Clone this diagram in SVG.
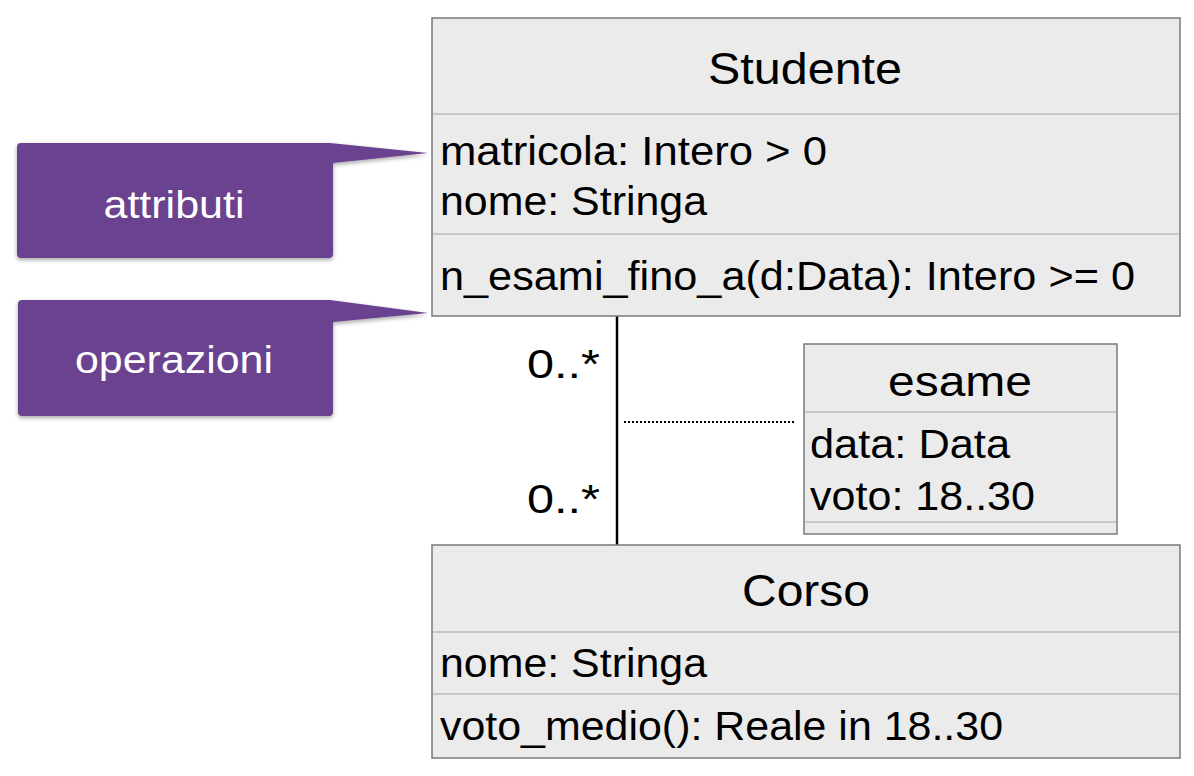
<svg xmlns="http://www.w3.org/2000/svg" width="1194" height="776" viewBox="0 0 1194 776">
<style>
.box{fill:#ebebeb;stroke:#7a7a7a;stroke-width:1.5}
.div{stroke:#bdbdbd;stroke-width:1.5}
.t{font-family:"Liberation Sans",Arial,sans-serif;fill:#000}
.title{font-size:44px;text-anchor:middle}
.attr{font-size:40px}
.call{fill:#6b4390}
.ct{font-family:"Liberation Sans",Arial,sans-serif;fill:#fff;font-size:38px;text-anchor:middle}
</style>
<defs>
<filter id="sh" x="-10%" y="-10%" width="120%" height="130%">
<feDropShadow dx="0" dy="2" stdDeviation="2" flood-color="#000" flood-opacity="0.35"/>
</filter>
</defs>
<rect width="1194" height="776" fill="#fff"/>
<g id="connectors">
<line x1="617" y1="316" x2="617" y2="545" stroke="#000" stroke-width="2.5"/>
<line x1="624" y1="422" x2="796" y2="422" stroke="#000" stroke-width="2" stroke-dasharray="2,2"/>
<text class="t attr" x="527" y="378" textLength="73" lengthAdjust="spacingAndGlyphs">0..*</text>
<text class="t attr" x="527" y="513" textLength="73" lengthAdjust="spacingAndGlyphs">0..*</text>
</g>
<g id="studente">
<rect class="box" x="432" y="18" width="748" height="298"/>
<line class="div" x1="433" y1="114" x2="1179" y2="114"/>
<line class="div" x1="433" y1="234" x2="1179" y2="234"/>
<text class="t title" x="805" y="84" textLength="194" lengthAdjust="spacingAndGlyphs">Studente</text>
<text class="t attr" x="440" y="165" textLength="387" lengthAdjust="spacingAndGlyphs">matricola: Intero &gt; 0</text>
<text class="t attr" x="440" y="215" textLength="267" lengthAdjust="spacingAndGlyphs">nome: Stringa</text>
<text class="t attr" x="440" y="290" textLength="695" lengthAdjust="spacingAndGlyphs">n_esami_fino_a(d:Data): Intero &gt;= 0</text>
</g>
<g id="esame">
<rect class="box" x="804" y="344" width="313" height="190"/>
<line class="div" x1="805" y1="412" x2="1116" y2="412"/>
<line class="div" x1="805" y1="522" x2="1116" y2="522"/>
<text class="t title" x="960" y="396" style="font-size:42px" textLength="144" lengthAdjust="spacingAndGlyphs">esame</text>
<text class="t attr" x="810" y="458" textLength="200" lengthAdjust="spacingAndGlyphs">data: Data</text>
<text class="t attr" x="810" y="510" textLength="225" lengthAdjust="spacingAndGlyphs">voto: 18..30</text>
</g>
<g id="corso">
<rect class="box" x="432" y="545" width="748" height="213"/>
<line class="div" x1="433" y1="632" x2="1179" y2="632"/>
<line class="div" x1="433" y1="694" x2="1179" y2="694"/>
<text class="t title" x="806" y="606" textLength="128" lengthAdjust="spacingAndGlyphs">Corso</text>
<text class="t attr" x="440" y="677" textLength="267" lengthAdjust="spacingAndGlyphs">nome: Stringa</text>
<text class="t attr" x="440" y="740" textLength="563" lengthAdjust="spacingAndGlyphs">voto_medio(): Reale in 18..30</text>
</g>
<g id="callout-attributi">
<path class="call" filter="url(#sh)" d="M21,143 H330 L428,153 L333,163 V254 Q333,258 329,258 H21 Q17,258 17,254 V147 Q17,143 21,143 Z"/>
<text class="ct" x="174" y="218" textLength="141" lengthAdjust="spacingAndGlyphs">attributi</text>
</g>
<g id="callout-operazioni">
<path class="call" filter="url(#sh)" d="M22,300 H330 L428,313 L333,322 V412 Q333,416 329,416 H22 Q18,416 18,412 V304 Q18,300 22,300 Z"/>
<text class="ct" x="174" y="373" textLength="198" lengthAdjust="spacingAndGlyphs">operazioni</text>
</g>
</svg>
